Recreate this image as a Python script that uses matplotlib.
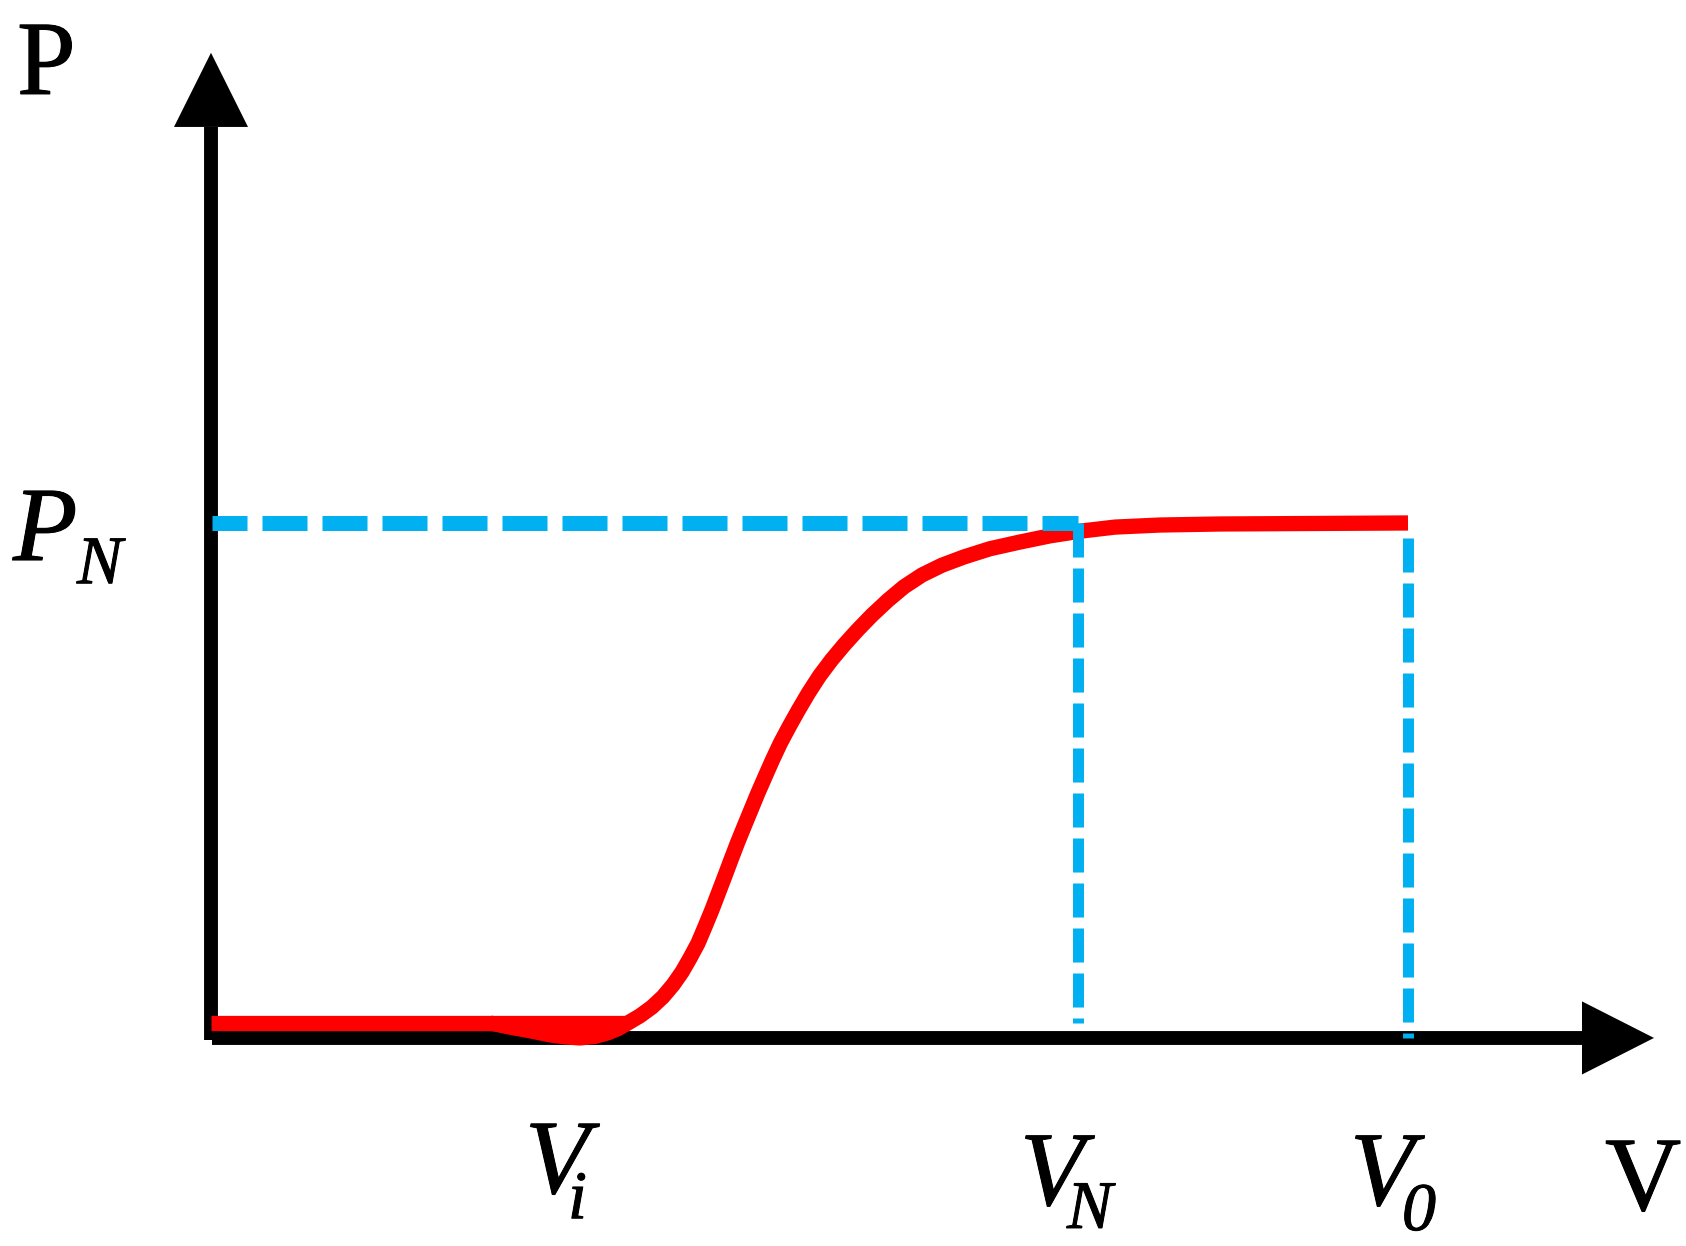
import matplotlib.pyplot as plt
import matplotlib.patheffects as pe

plt.rcParams['lines.scale_dashes'] = False

# power curve (V in arbitrary units, P as fraction of PN)
v_curve = [2.79, 2.99, 3.19, 3.39, 3.54, 3.69, 3.84, 3.97, 4.07, 4.16,
           4.29, 4.41, 4.52, 4.62, 4.71, 4.79, 4.87, 4.94, 5.01, 5.075,
           5.14, 5.20, 5.265, 5.33, 5.40, 5.47, 5.54, 5.615, 5.695, 5.78,
           5.875, 5.975, 6.085, 6.205, 6.33, 6.465, 6.61, 6.77, 6.93, 7.11,
           7.31, 7.53, 7.79, 8.09, 8.39, 8.69, 9.04, 9.49, 10.09, 11.97]
p_curve = [0.029, 0.021, 0.014, 0.006, 0.002, 0.0, 0.003, 0.010, 0.018, 0.028,
           0.043, 0.060, 0.080, 0.103, 0.128, 0.155, 0.184, 0.216, 0.249, 0.282,
           0.315, 0.346, 0.379, 0.410, 0.443, 0.476, 0.507, 0.540, 0.573, 0.604,
           0.637, 0.670, 0.703, 0.734, 0.763, 0.792, 0.821, 0.850, 0.876, 0.899,
           0.918, 0.934, 0.950, 0.963, 0.975, 0.984, 0.992, 0.996, 0.998, 1.0]
# flat part below cut-in
v_low = [0.0, 4.16]
p_low = [0.029, 0.029]

PN = 1.0
VN = 8.67
V0 = 11.97
P_off = 0.029  # small offset of the low red line / dashed drop lines

# axis extents
y_top, y_head = 1.769, 0.144
x_right, x_head = 13.71, 0.72

fig = plt.figure(figsize=(16.86, 12.46), dpi=100)
ax = fig.add_axes([0, 0, 1, 1])
ax.set_xlim(-2.11, 14.75)
ax.set_ylim(-0.404, 2.0155)
ax.axis('off')

# axes with arrow heads
ax.plot([0, 0], [-0.004, y_top], color='black', lw=10, solid_capstyle='butt', zorder=1)
ax.fill([-0.37, 0.37, 0], [y_top, y_top, y_top + y_head], color='black', lw=0, zorder=1)
ax.plot([0.01, x_right], [0, 0], color='black', lw=10, solid_capstyle='butt', zorder=1)
ax.fill([x_right, x_right, x_right + x_head], [-0.071, 0.071, 0], color='black', lw=0, zorder=1)

# red curve
red = '#FF0000'
ax.plot(v_low, p_low, color=red, lw=11, solid_capstyle='butt', zorder=2)
ax.plot(v_curve, p_curve, color=red, lw=11, solid_capstyle='butt',
        solid_joinstyle='round', zorder=2)

# blue dashed guides
blue = '#00B0F0'
ax.plot([0.01, VN], [PN, PN], color=blue, lw=10.8, ls=(7.2, (32.4, 10.8)), zorder=3)
ax.plot([VN, VN], [PN, P_off], color=blue, lw=7.9, ls=(0, (24.5, 7.9)), zorder=3)
ax.plot([V0, V0], [PN - P_off, 0], color=blue, lw=7.9, ls=(0, (24.5, 7.9)), zorder=3)

# labels
big, small = 76, 49
serif = 'Liberation Serif'
bold_fx = [pe.withStroke(linewidth=0.7, foreground='black')]


def label(x, y, s, size, italic=True):
    ax.text(x, y, s, fontsize=size, family=serif, style='italic' if italic else 'normal',
            ha='left', va='baseline', zorder=4, path_effects=bold_fx)


label(-1.94, 1.833, 'P', big, italic=False)
label(13.94, -0.334, 'V', big, italic=False)

label(-1.98, 0.928, 'P', big)
label(-1.34, 0.883, 'N', small)

label(3.14, -0.301, 'V', big)
label(3.57, -0.350, 'i', small)

label(VN - 0.58, -0.324, 'V', big)
label(VN - 0.11, -0.369, 'N', small)

label(V0 - 0.58, -0.324, 'V', big)
label(V0 - 0.06, -0.373, '0', small)

fig.savefig('out.png', dpi=100)
